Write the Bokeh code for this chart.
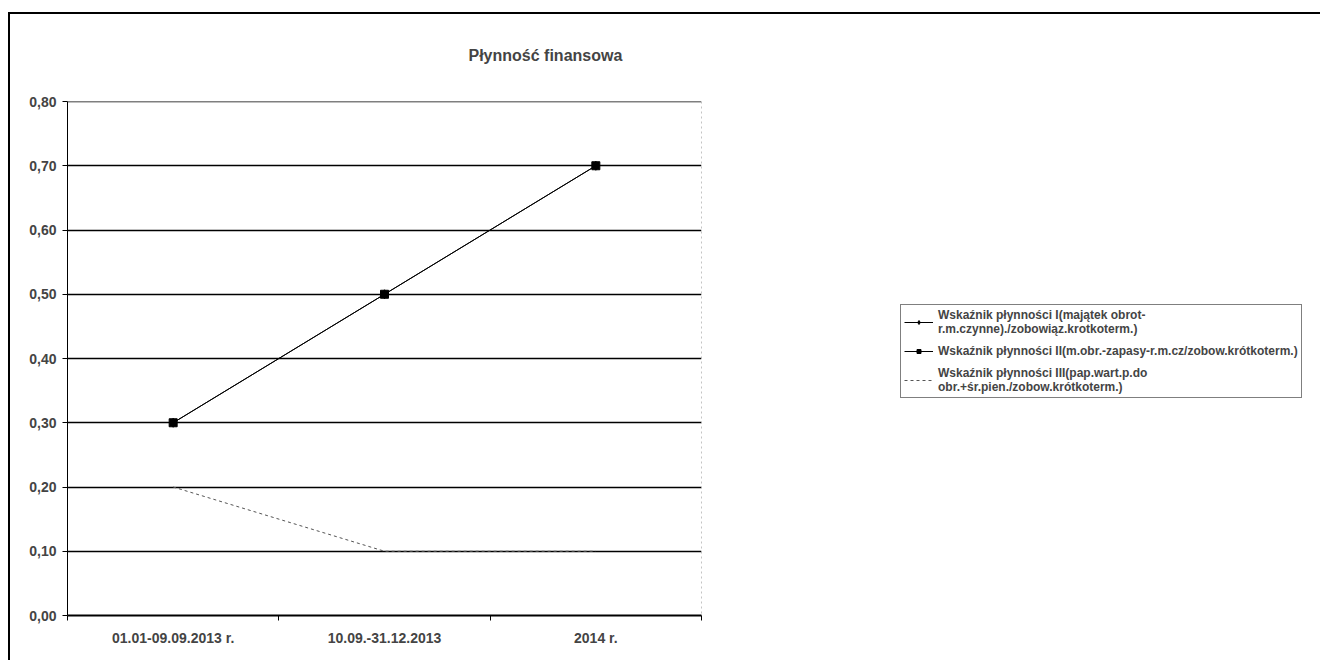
from bokeh.plotting import figure
from bokeh.layouts import row
from bokeh.models import (Range1d, FixedTicker, CustomJSTickFormatter, Legend,
                          LegendItem, Span, InlineStyleSheet)
from bokeh.embed import file_html
from bokeh.resources import INLINE

# ---- data -------------------------------------------------------------
categories = ["01.01-09.09.2013 r.", "10.09.-31.12.2013", "2014 r."]
wsk_I = [0.30, 0.50, 0.70]
wsk_II = [0.30, 0.50, 0.70]
wsk_III = [0.20, 0.10, 0.10]
y_ticks = [0.0, 0.1, 0.2, 0.3, 0.4, 0.5, 0.6, 0.7, 0.8]
series_names = [
    "Wskaźnik płynności I(majątek obrot-\nr.m.czynne)./zobowiąz.krotkoterm.)",
    "Wskaźnik płynności II(m.obr.-zapasy-r.m.cz/zobow.krótkoterm.)",
    "Wskaźnik płynności III(pap.wart.p.do\nobr.+śr.pien./zobow.krótkoterm.)",
]
title_text = "Płynność finansowa"

FONT = "Liberation Sans"
x = list(range(len(categories)))

# chart-area border (top and left edges, as in the scan)
left_css = InlineStyleSheet(css="""
:host { position: relative; }
:host::after {
  content: ""; position: absolute; left: 8px; top: 12px; right: 0; bottom: 0;
  border-top: 2px solid #000; border-left: 2px solid #000;
  pointer-events: none; z-index: 10;
}
""")
right_css = InlineStyleSheet(css="""
:host { position: relative; }
:host::after {
  content: ""; position: absolute; left: 0; top: 12px; right: 0; height: 0;
  border-top: 2px solid #000;
  pointer-events: none; z-index: 10;
}
""")

p = figure(width=720, height=660, output_backend="svg", toolbar_location=None,
           x_range=Range1d(-0.5, len(categories) - 0.5),
           y_range=Range1d(y_ticks[0], y_ticks[-1]),
           min_border_left=67, min_border_right=19,
           min_border_top=101, min_border_bottom=45,
           background_fill_color="white", border_fill_color="white",
           stylesheets=[left_css])

# title
p.title.text = title_text
p.title.align = "left"
p.title.offset = 401
p.title.text_font = FONT
p.title.text_font_size = "16px"
p.title.text_font_style = "bold"
p.title.standoff = 76

p.outline_line_color = None

# grid
p.xgrid.grid_line_color = None
p.ygrid.ticker = FixedTicker(ticks=y_ticks)
p.ygrid.grid_line_color = "black"
p.ygrid.grid_line_width = 1.6
p.add_layout(Span(location=y_ticks[-1], dimension="width",
                  line_color="black", line_width=1.6))

# dotted right edge of the plot area
p.add_layout(Span(location=len(categories) - 0.5, dimension="height",
                  line_color="#888888", line_width=1, line_dash="2 3"))

# y axis
ya = p.yaxis[0]
ya.ticker = FixedTicker(ticks=y_ticks, minor_ticks=[])
ya.formatter = CustomJSTickFormatter(code="return tick.toFixed(2).replace('.', ',');")
ya.major_tick_out = 5
ya.major_tick_in = 0
ya.major_tick_line_color = "black"
ya.axis_line_color = "black"
ya.axis_line_width = 1
ya.major_label_text_font = FONT
ya.major_label_text_font_size = "14px"
ya.major_label_text_font_style = "bold"
ya.major_label_standoff = 6

# x axis
xa = p.xaxis[0]
xa.ticker = FixedTicker(ticks=x, minor_ticks=[i - 0.5 for i in range(len(categories) + 1)])
xa.formatter = CustomJSTickFormatter(
    args=dict(cats=categories),
    code="const i = Math.round(tick); return (i >= 0 && i < cats.length) ? cats[i] : '';")
xa.major_tick_out = 0
xa.major_tick_in = 0
xa.minor_tick_out = 5
xa.minor_tick_in = 0
xa.minor_tick_line_color = "black"
xa.axis_line_color = "black"
xa.axis_line_width = 2
xa.major_label_text_font = FONT
xa.major_label_text_font_size = "14px"
xa.major_label_text_font_style = "bold"
xa.major_label_standoff = 9

# series
line_I = dict(line_color="black", line_width=1)
mark_I = dict(marker="diamond", size=9, color="black")
line_II = dict(line_color="black", line_width=1)
mark_II = dict(marker="square", size=8, color="black")
line_III = dict(line_color="#555555", line_width=1, line_dash="3 3")

p.line(x, wsk_I, **line_I)
p.scatter(x, wsk_I, **mark_I)
p.line(x, wsk_II, **line_II)
p.scatter(x, wsk_II, **mark_II)
p.line(x, wsk_III, **line_III)

# ---- legend panel (right part of the chart area) -----------------------
q = figure(width=600, height=660, output_backend="svg", toolbar_location=None,
           x_range=Range1d(0, 1), y_range=Range1d(0, 1),
           x_axis_location=None, y_axis_location=None, min_border=0,
           background_fill_color="white", border_fill_color="white",
           outline_line_color=None, stylesheets=[right_css])
q.grid.visible = False
# legend proxies: same series, hidden in this panel (they are drawn in p)
g1 = q.line(x, wsk_I, visible=False, **line_I)
g1m = q.scatter(x, wsk_I, visible=False, **mark_I)
g2 = q.line(x, wsk_II, visible=False, **line_II)
g2m = q.scatter(x, wsk_II, visible=False, **mark_II)
g3 = q.line(x, wsk_III, visible=False, **line_III)

legend = Legend(items=[
    LegendItem(label=series_names[0], renderers=[g1, g1m]),
    LegendItem(label=series_names[1], renderers=[g2, g2m]),
    LegendItem(label=series_names[2], renderers=[g3]),
], location=(180, 217))
legend.inactive_fill_alpha = 0
legend.border_line_color = "black"
legend.border_line_width = 1
legend.background_fill_color = "white"
legend.background_fill_alpha = 1
legend.label_text_font = FONT
legend.label_text_font_size = "12px"
legend.label_text_font_style = "bold"
legend.label_text_line_height = 0.2
legend.padding = 3
legend.spacing = 8
legend.margin = 0
legend.glyph_width = 29
legend.glyph_height = 10
legend.label_height = 10
legend.label_standoff = 5
q.add_layout(legend)

layout = row(p, q, spacing=0)
open("out.html", "w").write(file_html(layout, INLINE))
